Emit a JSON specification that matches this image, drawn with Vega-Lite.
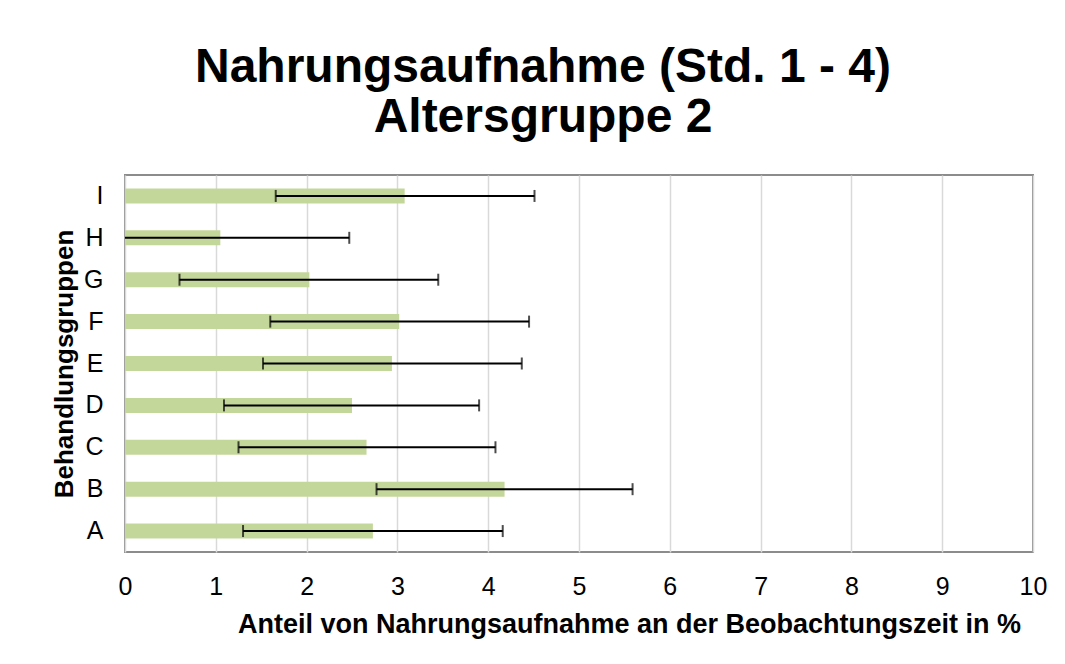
{
  "$schema": "https://vega.github.io/schema/vega-lite/v6.json",
  "width": 908,
  "height": 377,
  "autosize": "none",
  "padding": {"left": 125, "top": 175, "right": 32, "bottom": 112},
  "background": "white",
  "title": {
    "text": ["Nahrungsaufnahme (Std. 1 - 4)", "Altersgruppe 2"],
    "font": "Liberation Sans",
    "fontSize": 48,
    "fontWeight": "bold",
    "color": "black",
    "lineHeight": 50,
    "anchor": "middle",
    "dx": -36,
    "offset": 33
  },
  "config": {
    "view": {"stroke": "#8c8c8c", "strokeWidth": 2},
    "font": "Liberation Sans"
  },
  "data": {
    "values": [
      {"group": "I", "mean": 3.08, "lo": 1.66, "hi": 4.51},
      {"group": "H", "mean": 1.05, "lo": 0, "hi": 2.47},
      {"group": "G", "mean": 2.03, "lo": 0.60, "hi": 3.45},
      {"group": "F", "mean": 3.02, "lo": 1.60, "hi": 4.45},
      {"group": "E", "mean": 2.94, "lo": 1.52, "hi": 4.37},
      {"group": "D", "mean": 2.50, "lo": 1.09, "hi": 3.90},
      {"group": "C", "mean": 2.66, "lo": 1.25, "hi": 4.08},
      {"group": "B", "mean": 4.18, "lo": 2.77, "hi": 5.59},
      {"group": "A", "mean": 2.73, "lo": 1.30, "hi": 4.16}
    ]
  },
  "encoding": {
    "y": {
      "field": "group",
      "type": "nominal",
      "sort": ["I", "H", "G", "F", "E", "D", "C", "B", "A"],
      "scale": {"paddingInner": 0, "paddingOuter": 0},
      "axis": {
        "title": "Behandlungsgruppen",
        "ticks": false,
        "domain": false,
        "labelFontSize": 25,
        "labelColor": "black",
        "labelPadding": 22,
        "titleFontSize": 26,
        "titleFontWeight": "bold",
        "titleColor": "black",
        "titleAngle": 270,
        "titleX": -53,
        "titleY": 188.5,
        "titleAlign": "center",
        "titleBaseline": "alphabetic"
      }
    }
  },
  "layer": [
    {
      "mark": {"type": "bar", "color": "#c4d79b", "size": 15},
      "encoding": {
        "x": {
          "field": "mean",
          "type": "quantitative",
          "scale": {"domain": [0, 10], "nice": false},
          "axis": {
            "title": "Anteil von Nahrungsaufnahme an der Beobachtungszeit in %",
            "values": [0, 1, 2, 3, 4, 5, 6, 7, 8, 9, 10],
            "format": "d",
            "labelFlush": false,
            "grid": true,
            "gridColor": "#d9d9d9",
            "gridWidth": 1.5,
            "domain": false,
            "ticks": false,
            "labelFontSize": 25,
            "labelColor": "black",
            "labelPadding": 22,
            "titleFontSize": 27,
            "titleFontWeight": "bold",
            "titleColor": "black",
            "titleX": 504,
            "titleY": 80,
            "titleAlign": "center",
            "titleBaseline": "alphabetic"
          }
        }
      }
    },
    {
      "mark": {"type": "rule", "color": "black", "strokeWidth": 2},
      "encoding": {
        "x": {"field": "lo", "type": "quantitative"},
        "x2": {"field": "hi"}
      }
    },
    {
      "transform": [{"filter": "datum.lo > 0"}],
      "mark": {"type": "tick", "color": "black", "thickness": 2, "size": 12, "orient": "vertical"},
      "encoding": {
        "x": {"field": "lo", "type": "quantitative"}
      }
    },
    {
      "mark": {"type": "tick", "color": "black", "thickness": 2, "size": 12, "orient": "vertical"},
      "encoding": {
        "x": {"field": "hi", "type": "quantitative"}
      }
    }
  ]
}
